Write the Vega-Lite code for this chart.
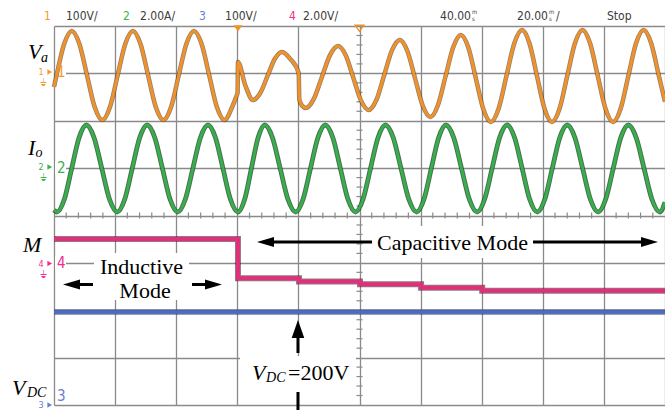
{
"$schema": "https://vega.github.io/schema/vega-lite/v6.json",
"width": 611, "height": 379,
"autosize": {"type": "none"},
"padding": {"left": 54, "top": 26, "right": 0, "bottom": 5},
"background": "#ffffff",
"view": {"stroke": null},
"datasets": {
"va": [{"x":0.0,"y":6.715},{"x":0.041,"y":6.955},{"x":0.166,"y":7.619},{"x":0.291,"y":7.894},{"x":0.416,"y":7.619},{"x":0.541,"y":6.955},{"x":0.666,"y":6.291},{"x":0.791,"y":6.016},{"x":0.916,"y":6.291},{"x":1.041,"y":6.955},{"x":1.166,"y":7.619},{"x":1.291,"y":7.894},{"x":1.416,"y":7.619},{"x":1.541,"y":6.955},{"x":1.666,"y":6.291},{"x":1.791,"y":6.016},{"x":1.916,"y":6.291},{"x":2.041,"y":6.955},{"x":2.166,"y":7.619},{"x":2.291,"y":7.894},{"x":2.416,"y":7.619},{"x":2.541,"y":6.955},{"x":2.666,"y":6.291},{"x":2.791,"y":6.016},{"x":2.916,"y":6.291},{"x":2.98,"y":6.5},{"x":3.005,"y":6.6},{"x":3.011,"y":7.24},{"x":3.13,"y":6.75},{"x":3.257,"y":6.438},{"x":3.376,"y":6.586},{"x":3.495,"y":6.945},{"x":3.613,"y":7.303},{"x":3.732,"y":7.451},{"x":3.87,"y":7.3},{"x":4.005,"y":7.008},{"x":4.015,"y":6.45},{"x":4.065,"y":6.31},{"x":4.12,"y":6.269},{"x":4.2525,"y":6.461},{"x":4.385,"y":6.924},{"x":4.5175,"y":7.386},{"x":4.65,"y":7.578},{"x":4.775,"y":7.38},{"x":4.9,"y":6.903},{"x":5.025,"y":6.425},{"x":5.15,"y":6.227},{"x":5.2775,"y":6.443},{"x":5.405,"y":6.966},{"x":5.5325,"y":7.489},{"x":5.66,"y":7.705},{"x":5.785,"y":7.467},{"x":5.91,"y":6.892},{"x":6.035,"y":6.317},{"x":6.16,"y":6.079},{"x":6.285,"y":6.332},{"x":6.41,"y":6.945},{"x":6.535,"y":7.557},{"x":6.66,"y":7.81},{"x":6.7825,"y":7.541},{"x":6.905,"y":6.892},{"x":7.0275,"y":6.243},{"x":7.15,"y":5.974},{"x":7.2775,"y":6.258},{"x":7.405,"y":6.945},{"x":7.5325,"y":7.632},{"x":7.66,"y":7.916},{"x":7.7825,"y":7.632},{"x":7.905,"y":6.945},{"x":8.0275,"y":6.258},{"x":8.15,"y":5.974},{"x":8.275,"y":6.258},{"x":8.4,"y":6.945},{"x":8.525,"y":7.632},{"x":8.65,"y":7.916},{"x":8.775,"y":7.632},{"x":8.9,"y":6.945},{"x":9.025,"y":6.258},{"x":9.15,"y":5.974},{"x":9.275,"y":6.258},{"x":9.4,"y":6.945},{"x":9.525,"y":7.632},{"x":9.65,"y":7.916},{"x":9.775,"y":7.632},{"x":9.9,"y":6.945},{"x":10.0,"y":6.4}],
"io": [{"x":0.0,"y":4.117},{"x":0.049,"y":4.074},{"x":0.169,"y":4.343},{"x":0.2895,"y":4.992},{"x":0.41,"y":5.641},{"x":0.53,"y":5.91},{"x":0.656,"y":5.641},{"x":0.7825,"y":4.992},{"x":0.909,"y":4.343},{"x":1.035,"y":4.074},{"x":1.1575,"y":4.343},{"x":1.28,"y":4.992},{"x":1.4025,"y":5.641},{"x":1.525,"y":5.91},{"x":1.65,"y":5.641},{"x":1.775,"y":4.992},{"x":1.9,"y":4.343},{"x":2.025,"y":4.074},{"x":2.149,"y":4.343},{"x":2.2725,"y":4.992},{"x":2.396,"y":5.641},{"x":2.52,"y":5.91},{"x":2.643,"y":5.641},{"x":2.7655,"y":4.992},{"x":2.888,"y":4.343},{"x":3.011,"y":4.074},{"x":3.121,"y":4.343},{"x":3.2305,"y":4.992},{"x":3.34,"y":5.641},{"x":3.45,"y":5.91},{"x":3.576,"y":5.641},{"x":3.7025,"y":4.992},{"x":3.829,"y":4.343},{"x":3.955,"y":4.074},{"x":4.076,"y":4.343},{"x":4.1975,"y":4.992},{"x":4.319,"y":5.641},{"x":4.44,"y":5.91},{"x":4.564,"y":5.641},{"x":4.6875,"y":4.992},{"x":4.811,"y":4.343},{"x":4.935,"y":4.074},{"x":5.0575,"y":4.343},{"x":5.18,"y":4.992},{"x":5.3025,"y":5.641},{"x":5.425,"y":5.91},{"x":5.5525,"y":5.641},{"x":5.68,"y":4.992},{"x":5.8075,"y":4.343},{"x":5.935,"y":4.074},{"x":6.055,"y":4.343},{"x":6.175,"y":4.992},{"x":6.295,"y":5.641},{"x":6.415,"y":5.91},{"x":6.5425,"y":5.641},{"x":6.67,"y":4.992},{"x":6.7975,"y":4.343},{"x":6.925,"y":4.074},{"x":7.0475,"y":4.343},{"x":7.17,"y":4.992},{"x":7.2925,"y":5.641},{"x":7.415,"y":5.91},{"x":7.539,"y":5.641},{"x":7.6625,"y":4.992},{"x":7.786,"y":4.343},{"x":7.91,"y":4.074},{"x":8.0325,"y":4.343},{"x":8.155,"y":4.992},{"x":8.2775,"y":5.641},{"x":8.4,"y":5.91},{"x":8.526,"y":5.641},{"x":8.6525,"y":4.992},{"x":8.779,"y":4.343},{"x":8.905,"y":4.074},{"x":9.029,"y":4.343},{"x":9.1525,"y":4.992},{"x":9.276,"y":5.641},{"x":9.4,"y":5.91},{"x":9.529,"y":5.641},{"x":9.6575,"y":4.992},{"x":9.786,"y":4.343},{"x":9.915,"y":4.074},{"x":10.0,"y":4.28}],
"m": [{"x":0,"y":3.504},{"x":3.011,"y":2.674},{"x":4.01,"y":2.607},{"x":5.008,"y":2.548},{"x":6.008,"y":2.476},{"x":7.008,"y":2.413},{"x":10,"y":2.413}],
"vdc": [{"x":0,"y":1.963},{"x":10,"y":1.963}],
"boxes": [{"x":0.655,"x2":2.209,"y":2.216,"y2":3.208},{"x":5.254,"x2":7.79,"y":3.103,"y2":3.778},{"x":3.044,"x2":4.943,"y":0.274,"y2":1.034},{"x":0.016,"x2":0.196,"y":6.86,"y2":7.14},{"x":0.016,"x2":0.196,"y":4.86,"y2":5.14},{"x":0.016,"x2":0.196,"y":2.86,"y2":3.14}],
"vt": [{"x":5,"y":0.2},{"x":5,"y":0.4},{"x":5,"y":0.6},{"x":5,"y":0.8},{"x":5,"y":1.2},{"x":5,"y":1.4},{"x":5,"y":1.6},{"x":5,"y":1.8},{"x":5,"y":2.2},{"x":5,"y":2.4},{"x":5,"y":2.6},{"x":5,"y":2.8},{"x":5,"y":3.2},{"x":5,"y":3.4},{"x":5,"y":3.6},{"x":5,"y":3.8},{"x":5,"y":4.2},{"x":5,"y":4.4},{"x":5,"y":4.6},{"x":5,"y":4.8},{"x":5,"y":5.2},{"x":5,"y":5.4},{"x":5,"y":5.6},{"x":5,"y":5.8},{"x":5,"y":6.2},{"x":5,"y":6.4},{"x":5,"y":6.6},{"x":5,"y":6.8},{"x":5,"y":7.2},{"x":5,"y":7.4},{"x":5,"y":7.6},{"x":5,"y":7.8}],
"ht": [{"x":0.2,"y":4},{"x":0.4,"y":4},{"x":0.6,"y":4},{"x":0.8,"y":4},{"x":1.2,"y":4},{"x":1.4,"y":4},{"x":1.6,"y":4},{"x":1.8,"y":4},{"x":2.2,"y":4},{"x":2.4,"y":4},{"x":2.6,"y":4},{"x":2.8,"y":4},{"x":3.2,"y":4},{"x":3.4,"y":4},{"x":3.6,"y":4},{"x":3.8,"y":4},{"x":4.2,"y":4},{"x":4.4,"y":4},{"x":4.6,"y":4},{"x":4.8,"y":4},{"x":5.2,"y":4},{"x":5.4,"y":4},{"x":5.6,"y":4},{"x":5.8,"y":4},{"x":6.2,"y":4},{"x":6.4,"y":4},{"x":6.6,"y":4},{"x":6.8,"y":4},{"x":7.2,"y":4},{"x":7.4,"y":4},{"x":7.6,"y":4},{"x":7.8,"y":4},{"x":8.2,"y":4},{"x":8.4,"y":4},{"x":8.6,"y":4},{"x":8.8,"y":4},{"x":9.2,"y":4},{"x":9.4,"y":4},{"x":9.6,"y":4},{"x":9.8,"y":4}],
"hdr": [{"x":-0.164,"y":8.127,"text":"1","c":"1"},{"x":0.196,"y":8.127,"text":"100V/","c":"k"},{"x":1.129,"y":8.127,"text":"2","c":"2"},{"x":1.408,"y":8.127,"text":"2.00A/","c":"k"},{"x":2.373,"y":8.127,"text":"3","c":"3"},{"x":2.799,"y":8.127,"text":"100V/","c":"k"},{"x":3.846,"y":8.127,"text":"4","c":"4"},{"x":4.075,"y":8.127,"text":"2.00V/","c":"k"},{"x":6.318,"y":8.127,"text":"40.00","c":"k"},{"x":7.578,"y":8.127,"text":"20.00","c":"k"},{"x":8.216,"y":8.127,"text":"/","c":"k"},{"x":9.051,"y":8.127,"text":"Stop","c":"k"}],
"ms": [{"x":6.841,"y":8.253,"text":"m"},{"x":6.841,"y":8.095,"text":"s"},{"x":8.101,"y":8.253,"text":"m"},{"x":8.101,"y":8.095,"text":"s"}],
"chn": [{"x":0.049,"y":7.029,"text":"1","c":"1"},{"x":0.049,"y":5.003,"text":"2","c":"2"},{"x":0.049,"y":2.997,"text":"4","c":"4"},{"x":0.049,"y":0.19,"text":"3","c":"3"}],
"chs": [{"x":-0.213,"y":7.029,"text":"1","c":"1"},{"x":-0.213,"y":5.024,"text":"2","c":"2"},{"x":-0.213,"y":2.985,"text":"4","c":"4"},{"x":-0.213,"y":0.0,"text":"3","c":"3"}],
"chtri": [{"x":-0.07,"y":7.029,"c":"1"},{"x":-0.07,"y":5.024,"c":"2"},{"x":-0.07,"y":2.985,"c":"4"},{"x":-0.07,"y":0.0,"c":"3"}],
"gnd": [{"x":-0.164,"y":6.797,"text":"⏚","c":"1"},{"x":-0.164,"y":4.792,"text":"⏚","c":"2"},{"x":-0.164,"y":2.735,"text":"⏚","c":"4"}],
"trigF": [{"x":3.011,"y":7.95}],
"trigH": [{"x":5.0,"y":7.95}],
"shafts": [{"x":0.41,"x2":0.638,"y":2.544,"y2":2.544},{"x":2.259,"x2":2.48,"y":2.544,"y2":2.544},{"x":3.6,"x2":5.205,"y":3.441,"y2":3.441},{"x":7.84,"x2":9.62,"y":3.441,"y2":3.441},{"x":3.993,"x2":3.993,"y":1.098,"y2":1.5},{"x":3.993,"x2":3.993,"y":-0.106,"y2":0.274}],
"headL": [{"x":0.2864,"y":2.544},{"x":3.4615,"y":3.441}],
"headR": [{"x":2.61,"y":2.544},{"x":9.746,"y":3.441}],
"headU": [{"x":3.993,"y":1.604}],
"itBig": [{"x":-0.4255,"y":7.303,"text":"V"},{"x":-0.4255,"y":5.277,"text":"I"},{"x":-0.507,"y":3.23,"text":"M"},{"x":-0.687,"y":0.211,"text":"V"},{"x":3.241,"y":0.528,"text":"V"}],
"itSub": [{"x":-0.2128,"y":7.24,"text":"a"},{"x":-0.303,"y":5.235,"text":"o"},{"x":-0.442,"y":0.169,"text":"DC"},{"x":3.47,"y":0.485,"text":"DC"}],
"rmL": [{"x":3.83,"y":0.528,"text":"=200V"}],
"rmC": [{"x":1.432,"y":2.765,"text":"Inductive"},{"x":1.489,"y":2.252,"text":"Mode"},{"x":6.522,"y":3.272,"text":"Capacitive Mode"}]
},
"encoding": {
"x": {"field": "x", "type": "quantitative", "scale": {"domain": [0, 10], "nice": false, "zero": false}, "axis": {"values": [0,1,2,3,4,5,6,7,8,9,10], "grid": true, "labels": false, "ticks": false, "domain": false, "title": null, "gridColor": "#8a8a8a", "gridWidth": 1.3, "gridOpacity": 1}},
"y": {"field": "y", "type": "quantitative", "scale": {"domain": [0, 8], "nice": false, "zero": false}, "axis": {"values": [0,1,2,3,4,5,6,7,8], "grid": true, "labels": false, "ticks": false, "domain": false, "title": null, "gridColor": "#8a8a8a", "gridWidth": 1.3, "gridOpacity": 1}}
},
"layer": [
{"data": {"name": "boxes"}, "mark": {"type": "rect", "color": "#ffffff", "opacity": 1}, "encoding": {"x2": {"field": "x2"}, "y2": {"field": "y2"}}},
{"data": {"name": "vt"}, "mark": {"type": "point", "shape": "M-1,0L1,0", "size": 36, "filled": false, "color": "#8a8a8a", "strokeWidth": 1.2, "opacity": 1}},
{"data": {"name": "ht"}, "mark": {"type": "point", "shape": "M0,-1L0,1", "size": 36, "filled": false, "color": "#8a8a8a", "strokeWidth": 1.2, "opacity": 1}},
{"data": {"name": "vdc"}, "mark": {"type": "line", "color": "#1e2a55", "strokeWidth": 5.5, "opacity": 0.6}},
{"data": {"name": "vdc"}, "mark": {"type": "line", "color": "#4a6cc6", "strokeWidth": 3.5}},
{"data": {"name": "m"}, "mark": {"type": "line", "interpolate": "step-after", "color": "#3a0a20", "strokeWidth": 6, "opacity": 0.55}},
{"data": {"name": "m"}, "mark": {"type": "line", "interpolate": "step-after", "color": "#e0307a", "strokeWidth": 4}},
{"data": {"name": "io"}, "mark": {"type": "line", "interpolate": "monotone", "color": "#1f4a28", "strokeWidth": 4.8, "opacity": 0.8}},
{"data": {"name": "io"}, "mark": {"type": "line", "interpolate": "monotone", "color": "#36b04a", "strokeWidth": 2.8}},
{"data": {"name": "va"}, "mark": {"type": "line", "interpolate": "monotone", "color": "#4a2c0a", "strokeWidth": 4.5, "opacity": 0.6}},
{"data": {"name": "va"}, "mark": {"type": "line", "interpolate": "monotone", "color": "#f0912a", "strokeWidth": 3}},
{"data": {"name": "trigF"}, "mark": {"type": "point", "shape": "M-1,-0.7L1,-0.7L0,0.7Z", "size": 80, "filled": true, "color": "#f0912a", "opacity": 1}},
{"data": {"name": "trigH"}, "mark": {"type": "point", "shape": "M-1,-0.7L1,-0.7L0,0.7Z", "size": 80, "filled": false, "color": "#f0912a", "strokeWidth": 1.3, "opacity": 1}},
{"data": {"name": "shafts"}, "mark": {"type": "rule", "color": "#000000", "strokeWidth": 3}, "encoding": {"x2": {"field": "x2"}, "y2": {"field": "y2"}}},
{"data": {"name": "headL"}, "mark": {"type": "point", "shape": "M-1,0L1,-0.6L1,0.6Z", "size": 289, "filled": true, "color": "#000000", "opacity": 1}},
{"data": {"name": "headR"}, "mark": {"type": "point", "shape": "M1,0L-1,-0.6L-1,0.6Z", "size": 289, "filled": true, "color": "#000000", "opacity": 1}},
{"data": {"name": "headU"}, "mark": {"type": "point", "shape": "M0,-1L-0.7,1L0.7,1Z", "size": 324, "filled": true, "color": "#000000", "opacity": 1}},
{"data": {"name": "hdr"}, "mark": {"type": "text", "align": "left", "baseline": "alphabetic", "font": "DejaVu Sans Condensed, Liberation Sans Narrow, sans-serif", "fontSize": 12}, "encoding": {"text": {"field": "text"}, "color": {"field": "c", "type": "nominal", "legend": null, "scale": {"domain": ["1","2","3","4","k"], "range": ["#f39a2b","#3bb34a","#6a7fd0","#f0308c","#3c3c3c"]}}}},
{"data": {"name": "ms"}, "mark": {"type": "text", "align": "left", "baseline": "alphabetic", "font": "DejaVu Sans Condensed, sans-serif", "fontSize": 6, "color": "#3c3c3c"}, "encoding": {"text": {"field": "text"}}},
{"data": {"name": "chn"}, "mark": {"type": "text", "align": "left", "baseline": "middle", "font": "DejaVu Sans Condensed, sans-serif", "fontSize": 15}, "encoding": {"text": {"field": "text"}, "color": {"field": "c", "type": "nominal", "legend": null, "scale": {"domain": ["1","2","3","4","k"], "range": ["#f39a2b","#3bb34a","#6a7fd0","#f0308c","#3c3c3c"]}}}},
{"data": {"name": "chs"}, "mark": {"type": "text", "align": "center", "baseline": "middle", "font": "DejaVu Sans Condensed, sans-serif", "fontSize": 9}, "encoding": {"text": {"field": "text"}, "color": {"field": "c", "type": "nominal", "legend": null, "scale": {"domain": ["1","2","3","4","k"], "range": ["#f39a2b","#3bb34a","#6a7fd0","#f0308c","#3c3c3c"]}}}},
{"data": {"name": "chtri"}, "mark": {"type": "point", "shape": "triangle-right", "size": 30, "filled": true, "opacity": 1}, "encoding": {"color": {"field": "c", "type": "nominal", "legend": null, "scale": {"domain": ["1","2","3","4","k"], "range": ["#f39a2b","#3bb34a","#6a7fd0","#f0308c","#3c3c3c"]}}}},
{"data": {"name": "gnd"}, "mark": {"type": "text", "align": "center", "baseline": "middle", "font": "DejaVu Sans, sans-serif", "fontSize": 10}, "encoding": {"text": {"field": "text"}, "color": {"field": "c", "type": "nominal", "legend": null, "scale": {"domain": ["1","2","3","4","k"], "range": ["#f39a2b","#3bb34a","#6a7fd0","#f0308c","#3c3c3c"]}}}},
{"data": {"name": "itBig"}, "mark": {"type": "text", "align": "left", "baseline": "alphabetic", "font": "Liberation Serif, Times New Roman, serif", "fontStyle": "italic", "fontSize": 22, "color": "#000000"}, "encoding": {"text": {"field": "text"}}},
{"data": {"name": "itSub"}, "mark": {"type": "text", "align": "left", "baseline": "alphabetic", "font": "Liberation Serif, Times New Roman, serif", "fontStyle": "italic", "fontSize": 14, "color": "#000000"}, "encoding": {"text": {"field": "text"}}},
{"data": {"name": "rmL"}, "mark": {"type": "text", "align": "left", "baseline": "alphabetic", "font": "Liberation Serif, Times New Roman, serif", "fontSize": 22, "color": "#000000"}, "encoding": {"text": {"field": "text"}}},
{"data": {"name": "rmC"}, "mark": {"type": "text", "align": "center", "baseline": "alphabetic", "font": "Liberation Serif, Times New Roman, serif", "fontSize": 22, "color": "#000000"}, "encoding": {"text": {"field": "text"}}}
]
}
